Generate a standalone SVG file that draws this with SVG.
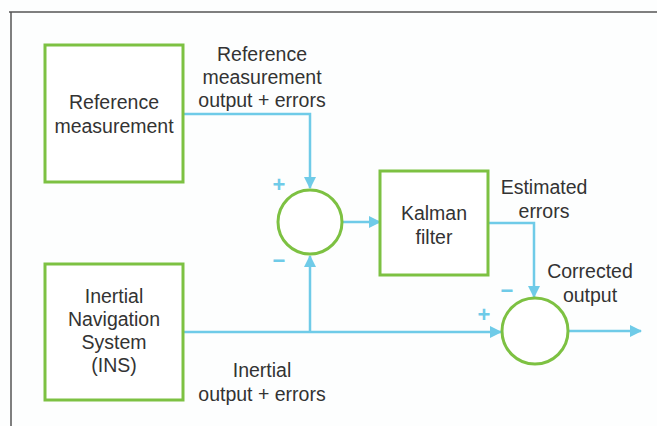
<svg xmlns="http://www.w3.org/2000/svg" width="657" height="426" viewBox="0 0 657 426">
<style>
.box{fill:#fff;stroke:#7dc142;stroke-width:3}
.sum{fill:#fff;stroke:#7dc142;stroke-width:3}
.ln{fill:none;stroke:#6fcbe8;stroke-width:2.5}
.t{font-family:"Liberation Sans",Arial,sans-serif;font-size:19.5px;fill:#333;text-anchor:middle}
.sg{font-family:"Liberation Sans",Arial,sans-serif;font-size:22px;font-weight:bold;fill:#6fcbe8;text-anchor:middle}
</style>
<defs>
<marker id="ar" viewBox="0 0 12 12" refX="11" refY="6" markerWidth="12" markerHeight="12" markerUnits="userSpaceOnUse" orient="auto">
<path d="M0,0 L12,6 L0,12 Z" fill="#6fcbe8"/>
</marker>
</defs>
<rect width="657" height="426" fill="#fdfefe"/>
<path d="M9,12 H657 M11,12 V426" fill="none" stroke="#555" stroke-width="1.5"/>
<g id="connectors">
<path class="ln" d="M183,114 H310 V188" marker-end="url(#ar)"/>
<path class="ln" d="M342,222 H380" marker-end="url(#ar)"/>
<path class="ln" d="M488,223 H534 V297" marker-end="url(#ar)"/>
<path class="ln" d="M183,332 H501" marker-end="url(#ar)"/>
<path class="ln" d="M310,332 V256" marker-end="url(#ar)"/>
<path class="ln" d="M569,331 H641" marker-end="url(#ar)"/>
</g>
<g id="ref">
<rect class="box" x="45" y="45" width="138" height="137"/>
<text class="t" x="114" y="109">Reference</text>
<text class="t" x="114" y="133">measurement</text>
</g>
<g id="ins">
<rect class="box" x="45" y="264" width="138" height="136"/>
<text class="t" x="114" y="303">Inertial</text>
<text class="t" x="114" y="326">Navigation</text>
<text class="t" x="114" y="349">System</text>
<text class="t" x="114" y="372">(INS)</text>
</g>
<g id="sum1">
<circle class="sum" cx="310" cy="222" r="32"/>
<text class="sg" x="279" y="192">+</text>
<text class="sg" x="279" y="268">−</text>
</g>
<g id="kalman">
<rect class="box" x="380" y="171" width="108" height="104"/>
<text class="t" x="434" y="220">Kalman</text>
<text class="t" x="434" y="244">filter</text>
</g>
<g id="sum2">
<circle class="sum" cx="535" cy="331" r="33"/>
<text class="sg" x="507" y="298">−</text>
<text class="sg" x="484" y="322">+</text>
</g>
<g id="labels">
<text class="t" x="262" y="61">Reference</text>
<text class="t" x="262" y="84">measurement</text>
<text class="t" x="262" y="107">output + errors</text>
<text class="t" x="544" y="194">Estimated</text>
<text class="t" x="544" y="218">errors</text>
<text class="t" x="590" y="278">Corrected</text>
<text class="t" x="590" y="302">output</text>
<text class="t" x="262" y="377">Inertial</text>
<text class="t" x="262" y="401">output + errors</text>
</g>
</svg>
